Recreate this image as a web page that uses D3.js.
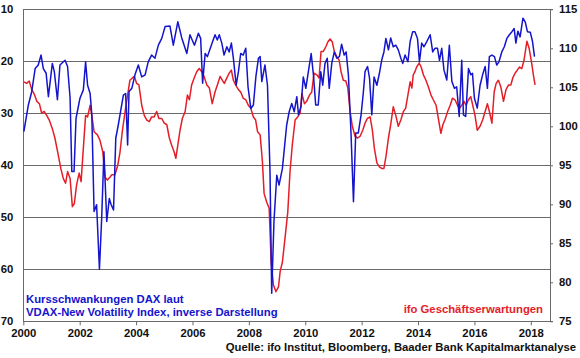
<!DOCTYPE html>
<html><head><meta charset="utf-8">
<script src="https://cdn.jsdelivr.net/npm/d3@7/dist/d3.min.js"></script>
<style>
body{margin:0;background:#fff;}
svg{display:block;font-family:"Liberation Sans",Arial,sans-serif;font-weight:bold;}
</style></head><body>
<svg id="c" width="580" height="358"></svg>
<script>
const vdaxYears = [2000.02,2000.18,2000.30,2000.42,2000.53,2000.63,2000.71,2000.81,2000.89,2001.03,2001.10,2001.21,2001.30,2001.48,2001.57,2001.66,2001.72,2001.80,2001.87,2002.01,2002.13,2002.21,2002.28,2002.37,2002.43,2002.51,2002.60,2002.70,2002.78,2002.86,2002.96,2003.05,2003.11,2003.20,2003.28,2003.37,2003.47,2003.55,2003.63,2003.70,2003.75,2003.85,2003.96,2004.08,2004.20,2004.32,2004.43,2004.55,2004.67,2004.79,2004.91,2005.03,2005.20,2005.32,2005.48,2005.62,2005.80,2005.91,2006.07,2006.21,2006.29,2006.36,2006.45,2006.53,2006.65,2006.80,2006.88,2006.95,2007.04,2007.12,2007.22,2007.30,2007.38,2007.45,2007.55,2007.63,2007.71,2007.80,2007.89,2007.97,2008.07,2008.16,2008.25,2008.34,2008.40,2008.46,2008.57,2008.66,2008.75,2008.81,2008.89,2008.99,2009.07,2009.19,2009.26,2009.34,2009.43,2009.52,2009.61,2009.70,2009.76,2009.85,2009.93,2010.02,2010.11,2010.21,2010.29,2010.37,2010.46,2010.55,2010.62,2010.70,2010.78,2010.85,2010.94,2011.03,2011.12,2011.21,2011.29,2011.38,2011.45,2011.53,2011.62,2011.71,2011.79,2011.88,2011.98,2012.06,2012.12,2012.21,2012.28,2012.36,2012.44,2012.54,2012.63,2012.71,2012.79,2012.86,2012.95,2013.03,2013.12,2013.21,2013.30,2013.39,2013.46,2013.54,2013.64,2013.72,2013.81,2013.89,2013.98,2014.05,2014.13,2014.21,2014.31,2014.43,2014.52,2014.60,2014.69,2014.76,2014.84,2014.92,2015.02,2015.11,2015.20,2015.29,2015.37,2015.46,2015.55,2015.61,2015.69,2015.79,2015.87,2015.93,2016.00,2016.10,2016.20,2016.29,2016.38,2016.46,2016.53,2016.62,2016.71,2016.79,2016.87,2016.97,2017.06,2017.15,2017.24,2017.33,2017.41,2017.47,2017.54,2017.62,2017.72,2017.80,2017.88,2017.98,2018.06,2018.13];
const vdaxValues = [33.5,28.4,25.8,21.4,20.7,18.8,21.4,22.3,26.8,20.4,22.0,27.4,20.7,19.8,21.0,27.1,41.2,41.2,31.0,27.1,25.5,20.1,24.6,26.2,30.3,48.9,47.6,60.0,50.2,37.4,50.8,46.4,47.5,48.6,34.8,32.2,29.0,26.5,26.2,36.1,25.8,25.2,22.6,20.7,23.0,22.6,20.1,18.8,19.4,16.9,15.6,13.3,13.2,16.9,12.4,15.5,18.5,14.9,16.9,14.6,15.6,24.2,18.5,19.1,17.2,14.9,15.9,14.9,16.5,18.8,17.2,18.2,16.5,19.4,24.6,22.0,18.5,18.8,17.5,24.9,29.1,28.4,22.9,19.4,19.1,23.9,20.7,24.6,41.2,64.6,50.8,41.9,43.8,40.6,36.7,32.3,29.7,28.1,29.7,26.8,30.3,28.7,23.0,25.2,22.0,18.5,22.6,28.4,28.4,22.0,24.6,20.4,19.4,25.2,20.4,18.2,19.4,19.1,16.7,18.8,18.2,22.6,33.5,47.0,33.8,33.8,30.3,26.0,22.0,21.0,23.3,30.3,23.0,24.6,22.3,19.8,18.2,15.6,17.8,15.5,17.2,16.9,17.8,19.4,20.4,18.8,20.1,16.2,14.3,14.3,15.6,20.1,16.5,17.2,16.2,14.9,18.2,17.5,17.5,19.8,17.5,21.7,23.6,16.9,23.9,25.2,24.9,30.6,19.8,30.3,30.6,21.4,22.6,22.3,27.1,29.0,24.6,22.6,21.0,25.2,19.1,18.8,19.1,20.7,20.1,18.2,17.2,15.6,14.9,14.3,13.7,16.5,14.2,15.3,11.7,12.4,14.3,14.4,16.2,19.1];
const ifoYears = [2000.02,2000.12,2000.21,2000.30,2000.38,2000.48,2000.57,2000.65,2000.74,2000.83,2000.92,2001.03,2001.12,2001.22,2001.33,2001.42,2001.50,2001.57,2001.66,2001.74,2001.81,2001.89,2001.98,2002.05,2002.13,2002.21,2002.28,2002.37,2002.43,2002.51,2002.63,2002.72,2002.82,2002.90,2002.98,2003.08,2003.14,2003.25,2003.35,2003.43,2003.51,2003.61,2003.70,2003.78,2003.87,2003.94,2004.02,2004.10,2004.20,2004.29,2004.38,2004.47,2004.55,2004.64,2004.73,2004.81,2004.91,2005.00,2005.09,2005.18,2005.26,2005.35,2005.41,2005.48,2005.56,2005.64,2005.74,2005.82,2005.89,2005.97,2006.06,2006.15,2006.24,2006.33,2006.41,2006.51,2006.60,2006.70,2006.80,2006.90,2006.98,2007.06,2007.13,2007.22,2007.30,2007.38,2007.45,2007.53,2007.63,2007.71,2007.80,2007.89,2007.98,2008.07,2008.16,2008.24,2008.31,2008.40,2008.48,2008.54,2008.63,2008.72,2008.79,2008.87,2008.96,2009.05,2009.11,2009.19,2009.28,2009.38,2009.46,2009.54,2009.64,2009.73,2009.82,2009.88,2009.97,2010.05,2010.15,2010.23,2010.31,2010.41,2010.49,2010.56,2010.64,2010.73,2010.80,2010.88,2010.96,2011.03,2011.12,2011.20,2011.27,2011.35,2011.44,2011.51,2011.59,2011.67,2011.77,2011.86,2011.94,2012.04,2012.12,2012.20,2012.30,2012.38,2012.45,2012.54,2012.63,2012.71,2012.79,2012.87,2012.95,2013.03,2013.12,2013.21,2013.30,2013.39,2013.48,2013.56,2013.64,2013.72,2013.78,2013.83,2013.89,2013.95,2014.04,2014.11,2014.19,2014.28,2014.37,2014.46,2014.54,2014.64,2014.72,2014.81,2014.88,2014.96,2015.05,2015.14,2015.22,2015.31,2015.40,2015.47,2015.55,2015.63,2015.70,2015.79,2015.87,2015.94,2016.02,2016.10,2016.20,2016.29,2016.38,2016.46,2016.53,2016.62,2016.70,2016.77,2016.85,2016.94,2017.03,2017.12,2017.21,2017.29,2017.36,2017.44,2017.52,2017.60,2017.68,2017.76,2017.86,2017.94,2018.03,2018.09,2018.15];
const ifoValues = [105.7,105.5,105.8,104.7,104.2,103.2,102.9,101.7,101.9,101.4,100.8,99.7,98.5,96.7,94.6,93.3,92.7,94.2,93.3,89.7,90.1,92.5,94.0,92.9,97.2,101.4,101.2,102.7,101.4,99.3,98.9,98.2,96.7,93.5,93.1,93.5,93.8,93.8,95.0,96.7,99.3,101.9,104.0,105.9,106.2,106.4,105.5,105.3,102.7,101.4,100.8,100.6,101.2,101.2,101.9,101.0,101.0,100.4,100.2,98.5,97.6,96.7,95.9,97.6,99.5,101.0,101.9,104.0,103.4,105.3,106.2,107.0,107.4,107.0,106.4,105.3,104.9,102.9,104.4,105.5,106.4,105.9,105.5,106.2,106.8,107.2,105.9,105.3,104.7,104.4,103.6,103.4,102.7,102.3,101.2,100.8,99.3,98.9,95.5,91.4,90.3,89.5,82.6,79.7,78.8,79.4,81.4,82.6,85.6,89.0,94.2,97.6,100.8,101.2,101.7,104.2,102.9,103.2,104.0,104.4,106.8,106.6,106.2,109.6,109.6,110.2,110.8,111.2,110.8,109.6,108.9,108.5,107.0,105.9,105.8,104.9,101.9,100.0,98.7,98.5,98.7,99.5,100.4,101.0,101.2,99.5,97.2,95.3,94.8,94.6,94.6,96.3,98.5,100.2,102.5,101.4,100.0,100.8,101.9,102.3,104.0,105.7,104.9,106.6,107.0,107.6,108.1,107.6,106.6,105.9,105.0,104.0,103.4,102.7,101.0,99.1,100.2,100.9,101.9,102.7,103.6,103.4,102.7,102.3,102.7,103.2,102.7,103.4,103.8,102.7,101.4,99.5,100.0,100.8,101.9,102.9,101.9,100.4,104.4,105.5,105.9,105.0,103.2,104.7,105.3,105.3,106.2,106.8,107.2,107.6,107.4,108.5,110.9,110.0,108.1,106.6,105.3];
const leftTicks = [10,20,30,40,50,60,70];
const rightTicks = [75,80,85,90,95,100,105,110,115];
const yearTicks = [2000,2002,2004,2006,2008,2010,2012,2014,2016,2018];
const labelVdax = ["Kursschwankungen DAX laut","VDAX-New Volatility Index, inverse Darstellung"];
const labelIfo = "ifo Geschäftserwartungen";
const source = "Quelle: ifo Institut, Bloomberg, Baader Bank Kapitalmarktanalyse";

const blue = "#1414CC", red = "#E41E28", grid = "#6a6a6a";
const svg = d3.select("#c");
const L = 23.3, R = 550, T = 9.3, B = 321.3;
const x = d3.scaleLinear().domain([2000, 2018.68]).range([L, R]);
const yL = d3.scaleLinear().domain([10, 70]).range([T, B]);
const yR = d3.scaleLinear().domain([75, 115]).range([B, T]);

// gridlines
svg.append("g").selectAll("line").data(leftTicks.slice(0, -1)).join("line")
  .attr("x1", L).attr("x2", R).attr("y1", d => yL(d)).attr("y2", d => yL(d))
  .attr("stroke", grid).attr("stroke-width", 1).attr("shape-rendering","crispEdges");

// left axis
const gl = svg.append("g").attr("transform", `translate(${L},0)`)
  .call(d3.axisLeft(yL).tickValues(leftTicks).tickSize(0).tickPadding(10));
gl.select(".domain").attr("stroke", grid).attr("shape-rendering","crispEdges");
gl.selectAll("text").attr("font-size", 11.3).attr("font-weight","bold").attr("fill","#111").attr("font-family","Liberation Sans, Arial, sans-serif");

// right axis
const gr = svg.append("g").attr("transform", `translate(${R},0)`)
  .call(d3.axisRight(yR).tickValues(rightTicks).tickSize(3).tickPadding(6));
gr.select(".domain").attr("stroke", grid).attr("shape-rendering","crispEdges");
gr.selectAll("line").attr("stroke", grid);
gr.selectAll("text").attr("font-size", 11.3).attr("font-weight","bold").attr("fill","#111").attr("font-family","Liberation Sans, Arial, sans-serif");

// bottom axis
const gb = svg.append("g").attr("transform", `translate(0,${B})`)
  .call(d3.axisBottom(x).tickValues(yearTicks).tickFormat(d3.format("d")).tickSize(4).tickSizeOuter(0).tickPadding(4));
gb.select(".domain").attr("stroke", grid).attr("shape-rendering","crispEdges");
gb.selectAll("line").attr("stroke", grid);
gb.selectAll("text").attr("font-size", 11.3).attr("font-weight","bold").attr("fill","#111").attr("font-family","Liberation Sans, Arial, sans-serif");

// series
const vdax = vdaxYears.map((t, i) => [t, vdaxValues[i]]);
const ifo = ifoYears.map((t, i) => [t, ifoValues[i]]);
svg.append("path").datum(ifo)
  .attr("d", d3.line().x(d => x(d[0])).y(d => yR(d[1])))
  .attr("fill","none").attr("stroke", red).attr("stroke-width", 1.5).attr("stroke-linejoin","round");
svg.append("path").datum(vdax)
  .attr("d", d3.line().x(d => x(d[0])).y(d => yL(d[1])))
  .attr("fill","none").attr("stroke", blue).attr("stroke-width", 1.5).attr("stroke-linejoin","round");

// labels
const lab = svg.append("text").attr("x", 26).attr("y", 302.5).attr("fill", blue).attr("font-size", 11.3);
labelVdax.forEach((s, i) => lab.append("tspan").attr("x", 26).attr("dy", i ? 13.4 : 0).text(s));
svg.append("text").attr("x", 543).attr("y", 313).attr("text-anchor","end").attr("fill", red).attr("font-size", 11.3).text(labelIfo);
svg.append("text").attr("x", 576).attr("y", 350.5).attr("text-anchor","end").attr("fill", "#111").attr("font-size", 11.3).text(source);
</script>
</body></html>
